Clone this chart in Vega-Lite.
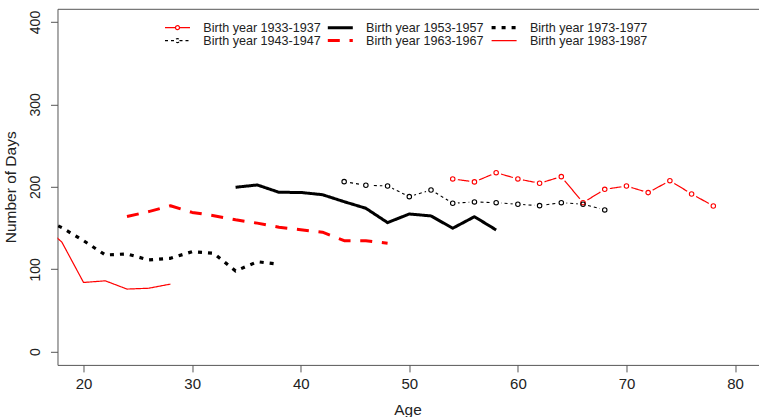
{
  "$schema": "https://vega.github.io/schema/vega-lite/v6.json",
  "width": 703.6,
  "height": 356.1,
  "autosize": {"type": "none"},
  "padding": {"left": 57.5, "top": 8.8, "right": 0, "bottom": 52.1},
  "background": "white",
  "config": {
    "view": {"stroke": "#555", "strokeWidth": 1},
    "font": "Liberation Sans",
    "axis": {"labelFont": "Liberation Sans", "titleFont": "Liberation Sans", "labelColor": "#222", "titleColor": "#222", "tickColor": "#555", "grid": false, "domain": false, "titleFontWeight": "normal", "labelFlush": false}
  },
  "data": {"values": [
    {"cohort": "Birth year 1933-1937", "age": 54, "days": 209.6},
    {"cohort": "Birth year 1933-1937", "age": 56, "days": 206},
    {"cohort": "Birth year 1933-1937", "age": 58, "days": 217.2},
    {"cohort": "Birth year 1933-1937", "age": 60, "days": 209.6},
    {"cohort": "Birth year 1933-1937", "age": 62, "days": 204.4},
    {"cohort": "Birth year 1933-1937", "age": 64, "days": 212.4},
    {"cohort": "Birth year 1933-1937", "age": 66, "days": 180.8},
    {"cohort": "Birth year 1933-1937", "age": 68, "days": 197},
    {"cohort": "Birth year 1933-1937", "age": 70, "days": 201},
    {"cohort": "Birth year 1933-1937", "age": 72, "days": 193},
    {"cohort": "Birth year 1933-1937", "age": 74, "days": 207.5},
    {"cohort": "Birth year 1933-1937", "age": 76, "days": 191.4},
    {"cohort": "Birth year 1933-1937", "age": 78, "days": 176.8},
    {"cohort": "Birth year 1943-1947", "age": 44, "days": 206.3},
    {"cohort": "Birth year 1943-1947", "age": 46, "days": 201.9},
    {"cohort": "Birth year 1943-1947", "age": 48, "days": 201.1},
    {"cohort": "Birth year 1943-1947", "age": 50, "days": 188.1},
    {"cohort": "Birth year 1943-1947", "age": 52, "days": 196.2},
    {"cohort": "Birth year 1943-1947", "age": 54, "days": 180.1},
    {"cohort": "Birth year 1943-1947", "age": 56, "days": 181.7},
    {"cohort": "Birth year 1943-1947", "age": 58, "days": 180.8},
    {"cohort": "Birth year 1943-1947", "age": 60, "days": 178.9},
    {"cohort": "Birth year 1943-1947", "age": 62, "days": 177.2},
    {"cohort": "Birth year 1943-1947", "age": 64, "days": 180.8},
    {"cohort": "Birth year 1943-1947", "age": 66, "days": 178.9},
    {"cohort": "Birth year 1943-1947", "age": 68, "days": 172},
    {"cohort": "Birth year 1953-1957", "age": 34, "days": 199.5},
    {"cohort": "Birth year 1953-1957", "age": 36, "days": 202.3},
    {"cohort": "Birth year 1953-1957", "age": 38, "days": 193.4},
    {"cohort": "Birth year 1953-1957", "age": 40, "days": 193.2},
    {"cohort": "Birth year 1953-1957", "age": 42, "days": 190.5},
    {"cohort": "Birth year 1953-1957", "age": 44, "days": 182},
    {"cohort": "Birth year 1953-1957", "age": 46, "days": 174},
    {"cohort": "Birth year 1953-1957", "age": 48, "days": 156.6},
    {"cohort": "Birth year 1953-1957", "age": 50, "days": 167.1},
    {"cohort": "Birth year 1953-1957", "age": 52, "days": 164.7},
    {"cohort": "Birth year 1953-1957", "age": 54, "days": 149.8},
    {"cohort": "Birth year 1953-1957", "age": 56, "days": 163.8},
    {"cohort": "Birth year 1953-1957", "age": 58, "days": 147.7},
    {"cohort": "Birth year 1963-1967", "age": 24, "days": 164},
    {"cohort": "Birth year 1963-1967", "age": 26, "days": 170},
    {"cohort": "Birth year 1963-1967", "age": 28, "days": 177},
    {"cohort": "Birth year 1963-1967", "age": 30, "days": 169},
    {"cohort": "Birth year 1963-1967", "age": 32, "days": 165},
    {"cohort": "Birth year 1963-1967", "age": 34, "days": 160},
    {"cohort": "Birth year 1963-1967", "age": 36, "days": 156},
    {"cohort": "Birth year 1963-1967", "age": 38, "days": 151},
    {"cohort": "Birth year 1963-1967", "age": 40, "days": 148},
    {"cohort": "Birth year 1963-1967", "age": 42, "days": 145},
    {"cohort": "Birth year 1963-1967", "age": 44, "days": 134.7},
    {"cohort": "Birth year 1963-1967", "age": 46, "days": 134.7},
    {"cohort": "Birth year 1963-1967", "age": 48, "days": 131.6},
    {"cohort": "Birth year 1973-1977", "age": 16, "days": 163},
    {"cohort": "Birth year 1973-1977", "age": 18, "days": 150.5},
    {"cohort": "Birth year 1973-1977", "age": 20, "days": 134.7},
    {"cohort": "Birth year 1973-1977", "age": 22, "days": 117.4},
    {"cohort": "Birth year 1973-1977", "age": 24, "days": 118.6},
    {"cohort": "Birth year 1973-1977", "age": 26, "days": 111.3},
    {"cohort": "Birth year 1973-1977", "age": 28, "days": 113.3},
    {"cohort": "Birth year 1973-1977", "age": 30, "days": 121.4},
    {"cohort": "Birth year 1973-1977", "age": 32, "days": 119.4},
    {"cohort": "Birth year 1973-1977", "age": 34, "days": 97.9},
    {"cohort": "Birth year 1973-1977", "age": 36, "days": 109.2},
    {"cohort": "Birth year 1973-1977", "age": 38, "days": 106},
    {"cohort": "Birth year 1983-1987", "age": 16, "days": 156},
    {"cohort": "Birth year 1983-1987", "age": 18, "days": 133},
    {"cohort": "Birth year 1983-1987", "age": 20, "days": 84},
    {"cohort": "Birth year 1983-1987", "age": 22, "days": 86},
    {"cohort": "Birth year 1983-1987", "age": 24, "days": 76},
    {"cohort": "Birth year 1983-1987", "age": 26, "days": 77},
    {"cohort": "Birth year 1983-1987", "age": 28, "days": 82}
  ]},
  "encoding": {
    "x": {"field": "age", "type": "quantitative",
      "scale": {"domain": [17.6, 82.4], "nice": false, "zero": false},
      "axis": {"values": [20, 30, 40, 50, 60, 70, 80], "tickSize": 7, "labelFontSize": 15, "labelPadding": 5,
        "title": "Age", "titleFontSize": 15.4, "titleX": 350, "titleY": 50, "titleBaseline": "alphabetic", "titleAlign": "center", "titleAnchor": null}},
    "y": {"field": "days", "type": "quantitative",
      "scale": {"domain": [-16, 416], "nice": false, "zero": false},
      "axis": {"values": [0, 100, 200, 300, 400], "tickSize": 7, "labelFontSize": 14, "labelAngle": -90, "labelAlign": "center", "labelBaseline": "alphabetic", "labelPadding": 10.5,
        "title": "Number of Days", "titleFontSize": 15.5, "titleAngle": -90, "titleX": -42, "titleY": 178, "titleBaseline": "alphabetic", "titleAlign": "center"}}
  },
  "layer": [
    {
      "mark": {"type": "line", "clip": true, "strokeCap": "butt", "strokeJoin": "round"},
      "encoding": {
        "color": {"field": "cohort", "type": "nominal",
          "scale": {"domain": ["Birth year 1933-1937", "Birth year 1953-1957", "Birth year 1973-1977", "Birth year 1943-1947", "Birth year 1963-1967", "Birth year 1983-1987"],
                    "range": ["#ff0000", "#000000", "#000000", "#000000", "#ff0000", "#ff0000"]},
          "legend": {"title": null, "orient": "none", "legendX": 107.5, "legendY": 12.5, "direction": "horizontal", "columns": 3,
            "padding": 0, "columnPadding": 0.8, "rowPadding": -0.8, "symbolSize": 16, "symbolOffset": 6.2, "labelOffset": 19.5,
            "labelFontSize": 12.6, "labelFont": "Liberation Sans", "labelColor": "#222", "labelLimit": 300,
            "encode": {"symbols": {"update": {
              "shape": {"signal": "indexof(['Birth year 1933-1937','Birth year 1943-1947'], datum.value) >= 0 ? 'M-6.25,0L-1,0A1,1 0 1,1 1,0A1,1 0 1,1 -1,0M1,0L6.25,0' : 'M-6.25,0L6.25,0'"},
              "strokeDash": {"signal": "datum.value == 'Birth year 1943-1947' ? [3,2.5,3,2,12.6,2,3,2.5,3,0.01] : scale('strokeDash', datum.value)"}
            }}}}},
        "strokeDash": {"field": "cohort", "type": "nominal",
          "scale": {"domain": ["Birth year 1933-1937", "Birth year 1953-1957", "Birth year 1973-1977", "Birth year 1943-1947", "Birth year 1963-1967", "Birth year 1983-1987"],
                    "range": [[1, 0], [1, 0], [4, 6], [3, 3], [12, 9.7], [1, 0]]}},
        "strokeWidth": {"field": "cohort", "type": "nominal",
          "scale": {"type": "ordinal", "domain": ["Birth year 1933-1937", "Birth year 1953-1957", "Birth year 1973-1977", "Birth year 1943-1947", "Birth year 1963-1967", "Birth year 1983-1987"],
                    "range": [1.2, 3, 3.2, 1.1, 3, 1.2]}}
      }
    },
    {
      "transform": [{"filter": "datum.cohort == 'Birth year 1933-1937' || datum.cohort == 'Birth year 1943-1947'"}],
      "mark": {"type": "point", "shape": "circle", "filled": true, "fill": "white", "strokeWidth": 0, "size": 110, "opacity": 1, "clip": true}
    },
    {
      "transform": [{"filter": "datum.cohort == 'Birth year 1933-1937' || datum.cohort == 'Birth year 1943-1947'"}],
      "mark": {"type": "point", "shape": "circle", "filled": false, "size": 20, "strokeWidth": 1.1, "opacity": 1, "clip": true},
      "encoding": {
        "stroke": {"condition": {"test": "datum.cohort == 'Birth year 1933-1937'", "value": "#ff0000"}, "value": "#000000"}
      }
    }
  ]
}
